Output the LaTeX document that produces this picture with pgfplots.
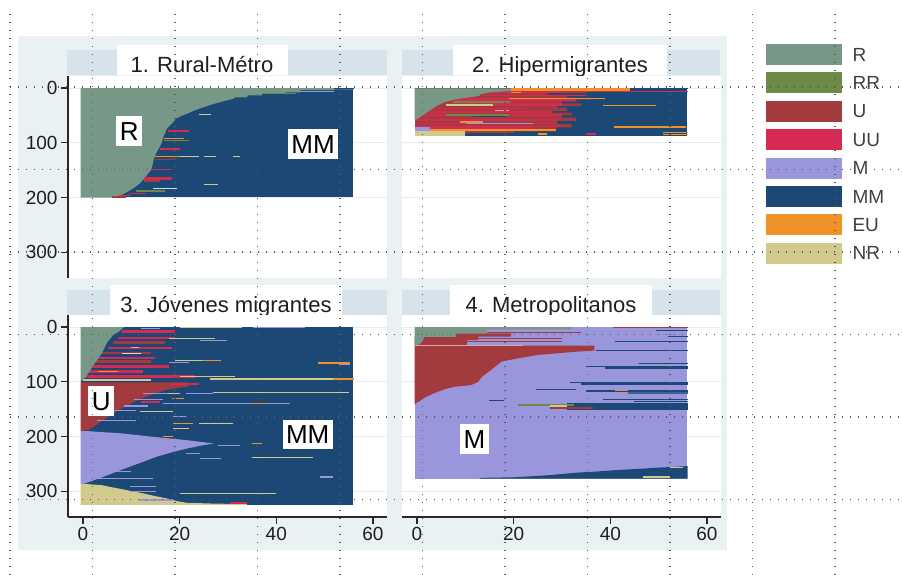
\documentclass[border=0pt]{standalone}
\usepackage{fontspec}
\setmainfont{Liberation Sans}
\usepackage{pgfplots}
\pgfplotsset{compat=1.18}
\definecolor{cR}{RGB}{120,152,135}
\definecolor{cRR}{RGB}{108,138,72}
\definecolor{cU}{RGB}{163,58,62}
\definecolor{cUU}{RGB}{214,42,82}
\definecolor{cM}{RGB}{154,150,220}
\definecolor{cMM}{RGB}{28,72,118}
\definecolor{cEU}{RGB}{240,146,40}
\definecolor{cNR}{RGB}{210,202,140}
\definecolor{bgc}{RGB}{234,241,243}
\definecolor{barc}{RGB}{214,227,234}
\definecolor{gridc}{RGB}{228,236,240}
\definecolor{axc}{RGB}{40,40,40}
\definecolor{txt}{RGB}{30,30,30}
\tikzset{lbl/.style={fill=white, inner xsep=3.5pt, inner ysep=5.5pt, text height=18.6pt, text depth=0pt, font=\fontsize{26}{26}\selectfont, text=black}}
\newcommand{\seg}[5]{\addplot[fill=#1,draw=none] coordinates {(#2,#4) (#3,#4) (#3,#5) (#2,#5)} -- cycle;}
\pgfplotsset{panel/.style={scale only axis, width=319pt, height=202pt,
  xmin=-3.1, xmax=62.9, ymin=-22, ymax=347, y dir=reverse, anchor=south west,
  axis background/.style={fill=white},
  ymajorgrids, grid style={line width=1pt, color=gridc},
  ytick={0,100,200,300}, xtick={0,20,40,60},
  tick align=outside, major tick length=7pt,
  tick style={line width=1.1pt, color=axc},
  ticklabel style={font=\fontsize{19}{19}\selectfont, text=txt},
  /pgf/number format/assume math mode=true,
  axis line style={line width=1.3pt, color=axc}}}
\begin{document}
\begin{tikzpicture}[x=1pt,y=1pt]
\useasboundingbox (0,0) rectangle (902,575);
\fill[white] (0,0) rectangle (902,575);
\fill[bgc] (18,25) rectangle (727,539);
% title bars
\fill[barc] (67,500) rectangle (387,525);
\fill[barc] (402,500) rectangle (720,525);
\fill[barc] (67,260) rectangle (387,285);
\fill[barc] (402,260) rectangle (720,285);
\fill[white] (117,500) rectangle (288,530);
\fill[white] (453,500) rectangle (667,530);
\fill[white] (110,260) rectangle (342,290);
\fill[white] (450,260) rectangle (652,290);
\node[font=\fontsize{22}{24}\selectfont, anchor=base, text=txt] at (202,502) {1. Rural-Métro};
\node[font=\fontsize{22}{24}\selectfont, anchor=base, text=txt] at (560,502) {2. Hipermigrantes};
\node[font=\fontsize{22}{24}\selectfont, anchor=base, text=txt] at (226,262) {3. Jóvenes migrantes};
\node[font=\fontsize{22}{24}\selectfont, anchor=base, text=txt] at (551,262) {4. Metropolitanos};

% ---------- Panel 1
\begin{axis}[panel, at={(68pt,297pt)},
  axis y line*=left, axis x line*=bottom, x axis line style={draw=none}, xtick=\empty]
\seg{cMM}{-0.4}{55.9}{0.1}{199.9}
\addplot[fill=cR,draw=none] coordinates {(-0.5,0)(56,0)(56,2.5)(52,2.5)(52,4)(45,4)(45,8)(42,8)(42,10.5)(37,10.5)(37,13.5)(34,13.5)(34,17)(31.5,17)(31,20)(29.5,23)(28.3,26)(27,29)(26,32)(25,35)(24,38)(23,41)(22.3,44)(21.5,47)(20.6,50)(19.9,53)(19.2,56)(18.7,62)(18,68)(17.3,75)(17,82)(16.6,90)(16.3,100)(15.7,110)(15.2,118)(14.7,128)(14.4,140)(14.1,150)(13.3,158)(12.6,166)(11.8,174)(10.6,182)(9.5,188)(8.3,194)(7.5,198)(6,200)(-0.5,200)} -- cycle;
\seg{cMM}{52}{56}{0}{1.5}
\seg{cM}{45}{52}{4.5}{6.5}
\seg{cRR}{37}{44}{8.5}{10}
\seg{cNR}{24}{26.5}{47.5}{49.5}
\seg{cUU}{17.5}{22}{77}{80}
\seg{cEU}{16.8}{21}{92}{94}
\seg{cRR}{16.8}{22}{95}{97}
\seg{cUU}{16}{20}{110}{113}
\seg{cEU}{14.8}{20}{124}{126.5}
\seg{cNR}{20}{24}{124}{126.5}
\seg{cNR}{25}{27.5}{124}{126}
\seg{cNR}{31}{32.5}{124}{126}
\seg{cU}{14.8}{19}{129}{132}
\seg{cUU}{14}{18.5}{147}{150}
\seg{cUU}{12.7}{18.5}{162}{168}
\seg{cU}{12.7}{16}{168}{171}
\seg{cNR}{25}{28}{176}{178}
\seg{cM!40!white}{14.5}{19.5}{182}{184}
\seg{cRR}{11}{17}{186}{189}
\seg{cUU}{9.5}{13}{191}{194}
\seg{cUU}{7.5}{10}{195}{198}
\seg{cU}{6}{9}{198}{200}
\node[lbl] at (axis cs:9.6,78) {R};
\node[lbl] at (axis cs:47.6,102) {MM};
\end{axis}

% ---------- Panel 2
\begin{axis}[panel, at={(402pt,297pt)},
  axis y line*=left, axis x line*=bottom, x axis line style={draw=none}, xtick=\empty,
  y axis line style={draw=none}, ytick style={draw=none}, yticklabels={}]
\seg{cMM}{-0.4}{55.9}{0.6}{87.4}
\addplot[fill=cU,draw=none] coordinates {(-0.4,0.6)(19.5,0.6)(19.5,5)(35,5)(35,9)(27,9)(27,12)(35,12)(35,15)(31,15)(31,18)(36,18)(36,21)(33,21)(33,25)(30,25)(30,28)(34,28)(34,33)(29,33)(29,36)(31,36)(31,42)(28,42)(28,45)(32,45)(32,50)(30,50)(30,54)(33,54)(33,60)(29,60)(29,66)(32,66)(32,72)(28.8,72)(28.8,79)(10,79)(10,87.4)(-0.4,87.4)} -- cycle;
\seg{cEU}{19.5}{44}{0.5}{5}
\seg{cMM}{44}{56}{0.5}{2.5}
\seg{cUU}{15}{56}{5}{7}
\seg{cUU}{15}{30}{7}{9}
\seg{cEU}{19.5}{21.5}{7}{9}
\seg{cUU}{13}{35}{12}{15}
\seg{cUU}{10}{19}{18}{20}
\seg{cEU}{19}{39}{18}{20}
\seg{cUU}{8}{33}{20}{23}
\seg{cRR}{7.4}{19.2}{23}{27}
\seg{cUU}{5.4}{30}{27}{30}
\seg{cNR}{6}{15.7}{30}{33}
\seg{cUU}{15.7}{30}{30}{33}
\seg{cEU}{38.5}{49.5}{31}{33}
\seg{cUU}{3.5}{22}{36}{39}
\seg{cUU!45!white}{16.2}{19}{40}{42}
\seg{cUU}{2.5}{28}{42}{45}
\seg{cRR}{6}{19}{48}{51}
\seg{cUU}{1.5}{6}{48}{51}
\seg{cUU}{19}{30}{48}{51}
\seg{cMM}{11.6}{18.5}{51}{53}
\seg{cUU}{-0.5}{29}{57}{60}
\seg{cEU}{8.8}{13.6}{60}{63}
\seg{cUU}{-0.5}{10.2}{63}{66}
\seg{cM}{10.2}{24}{63}{65.5}
\seg{cUU}{24}{29}{63}{66}
\seg{cUU}{-0.5}{30}{69}{72}
\seg{cEU}{40.7}{55.7}{69.5}{72.5}
\seg{cM}{-0.5}{2.6}{72}{79}
\seg{cUU}{2.6}{24}{72}{74}
\seg{cEU}{2.6}{28.8}{74}{79}
\seg{cNR}{-0.5}{10}{79}{87.5}
\seg{cU}{10}{20}{79}{82}
\seg{cEU}{25}{27}{82}{86}
\seg{cUU}{35}{37}{83}{86}
\seg{cEU}{51}{56}{80}{82}
\seg{cEU}{51}{56}{84}{86}
\addplot[fill=cR,draw=none] coordinates {(-0.5,0.5)(19.5,0.5)(19.5,5)(15,8)(13,11.5)(12.9,14.5)(10,18)(8.1,20.6)(6.7,23.5)(5.4,26.7)(4.7,30)(4,32.7)(3.5,36)(3,39)(2.5,42)(2,45)(1.5,48)(1,51)(0.5,54)(0,57)(-0.5,58)} -- cycle;
\end{axis}

% ---------- Panel 3
\begin{axis}[panel, at={(68pt,58pt)},
  axis y line*=left, axis x line*=bottom]
\seg{cMM}{-0.4}{55.9}{0.1}{324.9}
\seg{cUU}{8}{19}{5.5}{11.5}
\seg{cUU}{7.3}{19}{18}{22}
\seg{cU}{6.3}{17}{26}{31}
\seg{cUU}{5.2}{18.5}{36}{41}
\seg{cUU!45!white}{10}{11.5}{37}{39}
\seg{cU}{3.9}{14}{45}{50}
\seg{cM!40!white}{8}{12}{47}{49}
\seg{cUU}{3.2}{15}{54}{59}
\seg{cU}{2.7}{14}{61}{66}
\seg{cUU}{1.5}{17.7}{70}{75}
\seg{cUU}{1.2}{12.5}{79}{84}
\seg{cEU}{3.2}{7.3}{80}{82}
\seg{cUU}{0.4}{23.2}{88}{93}
\seg{cNR}{0}{14}{95}{98}
\seg{cNR}{20}{33}{0}{2}
\seg{cM}{35.2}{46}{0}{1.5}
\seg{cM}{12}{16}{2}{4}
\seg{cNR}{17.7}{27.4}{20}{22}
\seg{cM}{24.2}{29.7}{24}{26}
\seg{cNR}{19}{24.6}{60}{62}
\seg{cEU}{24.6}{28.6}{60}{62}
\seg{cM}{17.7}{22}{64}{66}
\seg{cEU}{48.7}{55.2}{64}{67}
\seg{cM}{53}{55.2}{67}{69}
\seg{cNR}{20}{31.5}{89}{91}
\seg{cNR}{26.3}{56}{93}{96}
\seg{cEU}{51.8}{56}{93}{96}
\addplot[fill=cR,draw=none] coordinates {(-0.5,0)(8.5,0)(7.5,8)(6.3,14)(5,28)(3.9,48)(2.7,63)(1.5,79)(0.5,92)(-0.5,100)} -- cycle;
\addplot[fill=cU,draw=none] coordinates {(-0.5,101)(22,101)(22,108)(17,115)(15,121)(12.2,130)(10,139.6)(7.3,151.7)(5.2,164)(3.2,176)(1.2,188)(-0.5,190)} -- cycle;
\seg{cUU}{18}{24}{103}{106}
\seg{cM}{12.5}{17.5}{121}{123}
\seg{cNR}{17.5}{20}{121}{123}
\seg{cM}{21.4}{27}{120}{122}
\seg{cNR}{27}{55}{119}{121}
\seg{cEU}{18.5}{21}{129}{131}
\seg{cM}{10.5}{16.5}{131}{133.5}
\seg{cUU}{12}{16}{136}{138}
\seg{cM}{16.6}{42.8}{138.5}{140.5}
\seg{cEU}{35}{38}{138.5}{141}
\seg{cM}{8.5}{13.5}{143}{145.5}
\seg{cM}{6.5}{11}{152}{154}
\seg{cNR}{11.8}{18.7}{154}{156}
\seg{cM}{18.7}{21.4}{163}{165}
\seg{cM}{3}{11}{170}{172}
\seg{cNR}{24}{31}{175}{177}
\seg{cEU}{18.7}{22.8}{176}{178}
\seg{cNR}{18.7}{22}{184}{186}
\seg{cEU}{16.5}{18.7}{199}{201}
\addplot[fill=cM,draw=none] coordinates {(-0.5,190)(0.8,190)(4,192)(7.7,194)(13.9,200)(21.4,206.6)(27,212.7)(24.2,217)(21.5,222)(18.7,228)(15.2,237)(12.5,246)(9.7,255)(7,264)(4.2,273.6)(1.4,282.7)(0,287)(-0.5,287)} -- cycle;
\seg{cEU}{35}{37}{212}{214}
\seg{cM}{28}{32.5}{216}{218}
\seg{cM}{21.4}{24.2}{230}{232}
\seg{cM}{24.2}{28.5}{239}{241}
\seg{cNR}{35}{47.6}{238}{240}
\seg{cM}{3.5}{10}{263}{265}
\seg{cM}{49}{51.8}{273}{275}
\seg{cM}{2}{14.5}{276}{278}
\addplot[fill=cNR,draw=none] coordinates {(-0.5,287)(1,287)(4,289)(5.6,292)(8,296)(12.5,304)(15,309)(17.3,313)(19.5,318)(21.4,321)(27,322.5)(33.9,323.5)(33.9,325)(-0.5,325)} -- cycle;
\seg{cM}{9.7}{15.2}{291}{293}
\seg{cM}{9.7}{15.2}{300}{302}
\seg{cNR}{20}{40}{303}{305}
\seg{cM}{11.5}{18.7}{315}{317}
\seg{cUU}{30.4}{33.9}{320}{322.5}
\node[lbl] at (axis cs:3.8,135) {U};
\node[lbl] at (axis cs:46.5,196) {MM};
\end{axis}

% ---------- Panel 4
\begin{axis}[panel, at={(402pt,58pt)},
  axis y line*=left, axis x line*=bottom,
  y axis line style={draw=none}, ytick style={draw=none}, yticklabels={}]
\seg{cM}{-0.4}{55.9}{0.1}{276.9}
\addplot[fill=cMM,draw=none] coordinates {(13,277)(13,275.5)(20,274.5)(27.4,270.6)(33,266)(37,264)(41,261.4)(46,259)(49.5,257)(53,255.5)(56,254)(56,277)} -- cycle;
\seg{cNR}{46.8}{52.3}{273}{275}
\seg{cNR}{52.3}{55}{255.5}{257.5}
\addplot[fill=cU,draw=none] coordinates {(-0.5,18)(8,18)(8,11.6)(19.5,11.6)(19.5,17.7)(12.7,17.7)(12.7,23.8)(10.3,23.8)(10.3,34)(36.7,34)(36.7,43)(33,45)(29,48)(25,51)(23,54)(21,57)(17.5,63)(16.2,72)(14.8,82)(13.4,91)(12.7,100)(11.2,106)(7.8,109)(5.6,114)(3.5,121)(1.8,128)(0.6,135)(-0.5,141)} -- cycle;
\seg{cU}{14.4}{34}{9.5}{11}
\seg{cU}{12.7}{30}{20}{21.5}
\seg{cU}{10.3}{30}{26}{27.5}
\seg{cU!45!white}{-0.5}{22}{33}{34.5}
\addplot[fill=cR,draw=none] coordinates {(-0.5,0)(32,0)(32,4.3)(14.4,4.3)(14.4,11.6)(8,11.6)(8,17.7)(1.5,17.7)(1.2,25)(0.5,32)(-0.5,33)} -- cycle;
\seg{cU}{40.5}{56}{0}{1.5}
\seg{cMM}{49.5}{56}{4.5}{6.5}
\seg{cMM}{52}{56}{15.5}{17.5}
\seg{cMM}{41}{56}{26}{28}
\seg{cMM}{37}{56}{42.5}{44}
\seg{cMM}{46}{56}{65.5}{67.5}
\seg{cMM}{35}{56}{71}{73}
\seg{cMM}{39}{56}{73}{76}
\seg{cMM}{31.6}{56}{100}{103}
\seg{cMM}{34}{56}{103}{106}
\seg{cMM}{24.7}{32.9}{113.5}{115}
\seg{cMM}{35}{56}{115}{118}
\seg{cMM!70!cM}{43.6}{56}{118}{122.5}
\seg{cEU}{41}{43.6}{115}{117}
\seg{cMM}{38.5}{56}{131.5}{133}
\seg{cMM}{15}{18}{133}{134.5}
\seg{cMM}{45}{56}{135.5}{137}
\seg{cMM}{31}{56}{139.5}{152}
\seg{cRR}{21}{32.5}{141}{145}
\seg{cNR}{27.5}{31}{143}{146}
\seg{cU}{27.5}{36.5}{146}{149}
\node[lbl] at (axis cs:11.9,205) {M};
\end{axis}

% legend
\foreach \c/\l [count=\i from 0] in {cR/R,cRR/RR,cU/U,cUU/UU,cM/M,cMM/MM,cEU/EU,cNR/NR} {
  \fill[\c] ({766},{531-28.4*\i}) rectangle ({842},{510-28.4*\i});
  \node[anchor=west, font=\fontsize{19}{19}\selectfont, text=txt!85] at ({849},{520.5-28.4*\i}) {\l};
}
% dotted overlay grid
\foreach \x in {10,92.5,175,257.5,340,422.5,505,587.5,670,752.5,835}
  \draw[black!65, line width=1.1pt, dash pattern=on 1.1pt off 6.9pt] (\x,0) -- (\x,565);
\foreach \y in {87,169.5,252,334.5,417,499.5}
  \draw[black!65, line width=1.1pt, dash pattern=on 1.1pt off 6.9pt] (10,{575-\y}) -- (902,{575-\y});
\end{tikzpicture}
\end{document}
